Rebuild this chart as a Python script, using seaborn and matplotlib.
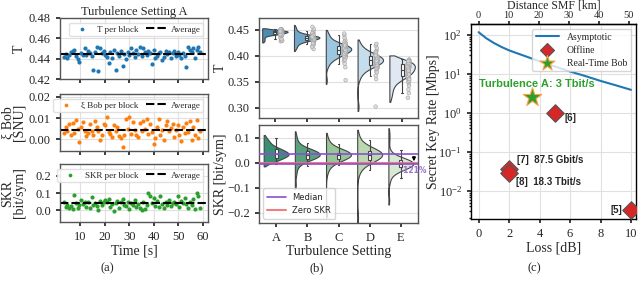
import numpy as np
import pandas as pd
import seaborn as sns
import matplotlib.pyplot as plt

# ---------------- (a) Turbulence setting A, per block ----------------
time_s = [3.5, 4.2, 4.9, 5.6, 6.3, 7.0, 7.7, 8.4, 9.1, 9.8,
          10.5, 11.2, 11.9, 12.6, 13.3, 14.0, 14.7, 15.4, 16.1, 16.8,
          17.5, 18.2, 18.9, 19.6, 20.3, 21.0, 21.7, 22.4, 23.1, 23.8,
          24.5, 25.2, 25.9, 26.6, 27.3, 28.0, 28.7, 29.4, 30.1, 30.8,
          31.5, 32.2, 32.9, 33.6, 34.3, 35.0, 35.7, 36.4, 37.1, 37.8,
          38.5, 39.2, 39.9, 40.6, 41.3, 42.0, 42.7, 43.4, 44.1, 44.8,
          45.5, 46.2, 46.9, 47.6, 48.3, 49.0, 49.7, 50.4, 51.1, 51.8,
          52.5, 53.2, 53.9, 54.6, 55.3, 56.0, 56.7, 57.4, 58.1, 58.8]

t_block = [0.442, 0.445, 0.441, 0.444, 0.447, 0.448, 0.449, 0.443, 0.440, 0.437,
           0.446, 0.444, 0.450, 0.444, 0.448, 0.446, 0.443, 0.429, 0.447, 0.451,
           0.428, 0.450, 0.446, 0.448, 0.444, 0.442, 0.436, 0.447, 0.441, 0.449,
           0.429, 0.446, 0.443, 0.448, 0.433, 0.445, 0.440, 0.447, 0.444, 0.450,
           0.446, 0.442, 0.449, 0.445, 0.451, 0.443, 0.450, 0.447, 0.444, 0.448,
           0.446, 0.435, 0.449, 0.441, 0.443, 0.446, 0.447, 0.439, 0.442, 0.448,
           0.445, 0.447, 0.441, 0.446, 0.448, 0.443, 0.447, 0.444, 0.441, 0.446,
           0.443, 0.432, 0.451, 0.449, 0.447, 0.450, 0.441, 0.449, 0.451, 0.447]

xi_block = [0.003, 0.006, 0.004, 0.007, 0.002, 0.0075, 0.003, 0.009, 0.005, -0.0015,
            0.006, 0.008, 0.004, 0.0015, 0.003, 0.007, 0.004, 0.002, 0.0085, 0.006,
            0.004, -0.0005, 0.002, 0.007, 0.0065, 0.0105, 0.0035, 0.0025, 0.001, 0.0065,
            0.004, 0.006, 0.0015, 0.0005, -0.0035, 0.002, 0.0095, 0.005, 0.0105, 0.0025,
            0.008, 0.0045, 0.002, 0.001, 0.0075, 0.004, 0.0085, 0.005, 0.0095, 0.0025,
            0.007, 0.0035, -0.002, 0.0005, 0.006, 0.0095, 0.002, 0.0045, -0.0005, 0.0065,
            0.0085, 0.004, 0.0055, 0.007, 0.001, 0.0045, 0.0065, 0.002, -0.001, 0.006,
            0.003, 0.0075, 0.0035, 0.0085, -0.0005, 0.006, 0.002, 0.009, 0.0005, 0.004]

skr_block = [0.045, 0.02, 0.03, 0.01, 0.025, 0.005, 0.09, 0.04, 0.015, 0.03,
             0.06, 0.035, 0.05, 0.02, 0.045, 0.01, 0.075, 0.03, 0.04, 0.025,
             0.0, 0.055, 0.03, 0.05, 0.06, 0.045, 0.065, 0.02, 0.035, -0.005,
             0.04, 0.055, 0.01, 0.045, 0.065, 0.03, 0.025, 0.05, 0.005, 0.04,
             0.03, 0.06, 0.02, 0.035, 0.015, 0.0, 0.045, 0.005, 0.03, 0.1,
             0.085, 0.04, 0.07, 0.025, 0.055, 0.02, 0.08, 0.035, 0.015, 0.045,
             0.03, 0.06, 0.025, 0.04, 0.05, 0.035, 0.08, 0.02, 0.055, 0.04,
             0.07, 0.035, 0.015, 0.05, 0.03, 0.065, 0.005, 0.1, 0.085, 0.01]

# ---------------- (b) settings B-E (A = the blocks above) ----------------
settings = ['A', 'B', 'C', 'D', 'E']

t_B = [0.436, 0.432, 0.441, 0.428, 0.438, 0.434, 0.445, 0.430, 0.437, 0.422,
       0.433, 0.440, 0.435, 0.426, 0.439, 0.431, 0.448, 0.436, 0.429, 0.434,
       0.443, 0.413, 0.437, 0.432, 0.438, 0.427, 0.435, 0.441, 0.430, 0.452,
       0.434, 0.437, 0.419, 0.433, 0.439, 0.436, 0.431, 0.444, 0.428, 0.435,
       0.456, 0.433, 0.438, 0.424, 0.436, 0.440, 0.432, 0.435, 0.417, 0.437]
t_C = [0.412, 0.405, 0.420, 0.398, 0.415, 0.408, 0.425, 0.401, 0.417, 0.390,
       0.410, 0.422, 0.413, 0.395, 0.419, 0.403, 0.430, 0.411, 0.399, 0.414,
       0.427, 0.385, 0.416, 0.406, 0.421, 0.396, 0.413, 0.435, 0.402, 0.418,
       0.409, 0.424, 0.378, 0.412, 0.440, 0.407, 0.415, 0.400, 0.419, 0.353,
       0.410, 0.423, 0.404, 0.417, 0.392, 0.414, 0.408, 0.420, 0.411, 0.443]
t_D = [0.391, 0.384, 0.400, 0.377, 0.395, 0.387, 0.405, 0.381, 0.398, 0.370,
       0.390, 0.402, 0.393, 0.374, 0.399, 0.383, 0.410, 0.389, 0.379, 0.394,
       0.408, 0.362, 0.396, 0.386, 0.403, 0.376, 0.392, 0.415, 0.382, 0.397,
       0.388, 0.404, 0.355, 0.391, 0.420, 0.385, 0.395, 0.380, 0.400, 0.302,
       0.389, 0.406, 0.383, 0.397, 0.368, 0.393, 0.387, 0.401, 0.390, 0.423]
t_E = [0.372, 0.365, 0.385, 0.358, 0.378, 0.368, 0.390, 0.356, 0.381, 0.345,
       0.374, 0.388, 0.376, 0.350, 0.383, 0.362, 0.392, 0.370, 0.357, 0.379,
       0.386, 0.335, 0.377, 0.366, 0.389, 0.352, 0.373, 0.393, 0.360, 0.382,
       0.369, 0.387, 0.328, 0.371, 0.391, 0.363, 0.380, 0.355, 0.384, 0.319,
       0.367, 0.389, 0.361, 0.379, 0.342, 0.375, 0.364, 0.386, 0.371, 0.390]

skr_B = [0.03, 0.02, 0.045, 0.01, 0.035, 0.025, 0.055, 0.015, 0.04, 0.0,
         0.03, 0.05, 0.035, -0.005, 0.045, 0.02, 0.07, 0.03, 0.01, 0.035,
         0.06, -0.03, 0.04, 0.025, 0.05, 0.005, 0.03, 0.08, 0.015, 0.045,
         0.025, 0.055, -0.05, 0.03, 0.11, 0.02, 0.04, 0.01, 0.05, -0.09,
         0.03, 0.06, 0.015, 0.045, -0.015, 0.035, 0.025, 0.05, 0.03, 0.09]
skr_C = [0.03, 0.02, 0.04, 0.01, 0.035, 0.025, 0.05, 0.015, 0.04, 0.0,
         0.03, 0.045, 0.035, -0.005, 0.04, 0.02, 0.065, 0.03, 0.01, 0.035,
         0.055, -0.025, 0.04, 0.025, 0.045, 0.005, 0.03, 0.075, 0.015, 0.04,
         0.025, 0.05, -0.04, 0.03, 0.1, 0.02, 0.035, 0.01, 0.045, -0.2,
         0.03, 0.055, 0.015, 0.04, -0.01, 0.035, 0.025, 0.045, 0.03, 0.085]
skr_D = [0.03, 0.015, 0.045, 0.005, 0.035, 0.02, 0.055, 0.01, 0.04, -0.005,
         0.03, 0.05, 0.035, -0.01, 0.045, 0.02, 0.07, 0.03, 0.005, 0.035,
         0.06, -0.03, 0.04, 0.02, 0.05, 0.0, 0.03, 0.08, 0.01, 0.045,
         0.025, 0.055, -0.05, 0.03, 0.11, 0.015, 0.04, 0.005, 0.05, -0.22,
         0.03, 0.06, 0.01, 0.045, -0.02, 0.035, 0.02, 0.05, 0.025, 0.09]
skr_E = [-0.007, -0.015, 0.005, -0.025, 0.0, -0.01, 0.015, -0.02, 0.008, -0.035,
         -0.005, 0.01, -0.003, -0.04, 0.006, -0.018, 0.03, -0.008, -0.028, -0.002,
         0.02, -0.06, 0.004, -0.012, 0.012, -0.03, -0.006, 0.05, -0.022, 0.009,
         -0.01, 0.014, -0.08, -0.007, 0.09, -0.016, 0.002, -0.024, 0.011, -0.15,
         -0.009, 0.018, -0.02, 0.007, -0.045, -0.004, -0.013, 0.013, -0.006, 0.12]
drop_label = '-121%'

blues = ['#3d8fc4', '#62abd8', '#8fcbec', '#bfdff2', '#dde9f6']
greens = ['#2a9f7a', '#4bb07a', '#8fcf8e', '#b7e0aa', '#d5ecd0']

# ---------------- (c) key rate vs loss ----------------
asym_loss = [0, 0.25, 0.5, 1, 1.5, 2, 3, 4, 5, 6, 7, 8, 9, 10]
asym_rate = [117, 98, 82, 62, 49, 40, 29, 21, 15.5, 11.5, 8.8, 6.6, 5.1, 3.9]
off_loss = [5, 2, 2, 10]
off_rate = [1.0, 0.037, 0.028, 0.0033]
off_refs = ['[6]', '[7]  87.5 Gbit/s', '[8]  18.3 Tbit/s', '[5]']
rt_loss = [3.5]
rt_rate = [2.6]
db_per_km = 0.197

# ---------------- style ----------------
sns.set_theme(style='whitegrid')
plt.rcParams['font.family'] = ['Liberation Serif', 'DejaVu Serif']
plt.rcParams['mathtext.fontset'] = 'stix'
plt.rcParams['axes.edgecolor'] = '#555555'
plt.rcParams['axes.linewidth'] = 1.0
plt.rcParams['grid.color'] = '#e0e0e0'
plt.rcParams['grid.linewidth'] = 0.8
plt.rcParams['xtick.bottom'] = True
plt.rcParams['ytick.left'] = True
plt.rcParams['xtick.major.size'] = 3
plt.rcParams['ytick.major.size'] = 3
plt.rcParams['xtick.labelsize'] = 9
plt.rcParams['ytick.labelsize'] = 9
plt.rcParams['axes.labelsize'] = 10
np.random.seed(3)

fig = plt.figure(figsize=(6.4, 2.93), dpi=100)
W, H = 640, 293


def px_axes(x0, y0, x1, y1):
    return fig.add_axes([x0 / W, 1 - y1 / H, (x1 - x0) / W, (y1 - y0) / H])


# ---------------- panel (a) ----------------
axa1 = px_axes(60, 18, 208, 79)
axa2 = px_axes(60, 94, 208, 151)
axa3 = px_axes(60, 164, 208, 222)

rows = [(axa1, t_block, 'tab:blue', 'T per block', 'T', (0.42, 0.48), [0.42, 0.44, 0.46, 0.48], '{:.2f}'),
        (axa2, xi_block, 'tab:orange', 'ξ Bob per block', 'ξ Bob\n[SNU]', (-0.0055, 0.0213), [0.0, 0.01, 0.02], '{:.2f}'),
        (axa3, skr_block, 'tab:green', 'SKR per block', 'SKR\n[bit/sym]', (-0.07, 0.27), [0.0, 0.1, 0.2], '{:.1f}')]
for ax, vals, col, lab, ylab, ylim, yt, fmt in rows:
    sns.scatterplot(x=time_s, y=vals, color=col, s=9, linewidth=0, label=lab, ax=ax)
    ax.axhline(np.mean(vals), color='black', ls=(0, (4, 1.5)), lw=1.5, label='Average')
    ax.set_xlim(1.9, 62)
    ax.set_ylim(*ylim)
    ax.set_yticks(yt)
    ax.set_yticklabels([fmt.format(v) for v in yt])
    ax.set_xticks([10, 20, 30, 40, 50, 60])
    ax.set_ylabel(ylab, fontsize=10, linespacing=0.85)
    ax.legend(loc='upper right', ncol=2, fontsize=6.5, handlelength=2.3,
              columnspacing=0.8, borderpad=0.3, handletextpad=0.5, markerscale=0.9,
              framealpha=0.9, edgecolor='#dddddd')
    ax.yaxis.set_label_coords(-0.23, 0.5)
    if ax is not axa3:
        ax.set_xticklabels([])
axa1.set_title('Turbulence Setting A', fontsize=9, pad=2)
axa3.set_xlabel('Time [s]', labelpad=1)

# ---------------- panel (b) ----------------
dfT = pd.DataFrame({'setting': np.repeat(settings, [len(t_block), len(t_B), len(t_C), len(t_D), len(t_E)]),
                    'T': t_block + t_B + t_C + t_D + t_E})
dfS = pd.DataFrame({'setting': np.repeat(settings, [len(skr_block), len(skr_B), len(skr_C), len(skr_D), len(skr_E)]),
                    'SKR': skr_block + skr_B + skr_C + skr_D + skr_E})
dfT['side'] = 'l'
dfS['side'] = 'l'

axb1 = px_axes(259, 18, 418, 118)
axb2 = px_axes(259, 125, 418, 223)

for ax, df, col, pal in ((axb1, dfT, 'T', blues), (axb2, dfS, 'SKR', greens)):
    for i, s in enumerate(settings):
        sns.violinplot(data=df[df.setting == s], x='setting', y=col, order=settings,
                       hue='side', hue_order=['r', 'l'], split=True, dodge=False,
                       inner=None, cut=1, width=0.8, density_norm='width',
                       palette=[pal[i], pal[i]], linewidth=0.8,
                       linecolor='#444444', legend=False, ax=ax)
    sns.boxplot(data=df, x='setting', y=col, order=settings, width=0.1, showfliers=False,
                color='white', linecolor='#444444', linewidth=0.8, ax=ax)
    ax.set_xlim(-0.55, 4.55)

sns.stripplot(data=dfT, x='setting', y='T', order=settings, hue='side', hue_order=['r', 'l'],
              dodge=True, jitter=0.07, size=2.6, palette=['white', '#d9d9d9'],
              edgecolor='#a0a0a0', linewidth=0.5, alpha=0.8, legend=False, ax=axb1)

axb1.set_ylim(0.280, 0.473)
axb1.set_yticks([0.30, 0.35, 0.40, 0.45])
axb1.set_xticklabels([])
axb1.set_xlabel('')
axb1.set_ylabel('T')

med_a = np.median(skr_block)
med_e = np.median(skr_E)
axb2.axhline(med_a, color='#8a4fd1', lw=1.2, label='Median', zorder=5)
axb2.axhline(med_e, color='#8a4fd1', lw=1.2, zorder=5)
axb2.axhline(0, color='#f07070', lw=1.5, alpha=0.9, label='Zero SKR', zorder=4)
axb2.annotate('', xy=(4.42, med_e), xytext=(4.42, med_a),
              arrowprops=dict(arrowstyle='-|>', color='black', lw=1, mutation_scale=5), zorder=6)
axb2.text(4.42, med_e - 0.007, drop_label,
          ha='center', va='top', fontsize=5.5, color='#9b72cf', fontweight='bold',
          family='DejaVu Sans', zorder=6)
axb2.set_ylim(-0.241, 0.150)
axb2.set_yticks([-0.2, -0.1, 0.0, 0.1])
axb2.set_xlabel('Turbulence Setting', labelpad=1)
axb2.set_ylabel('SKR [bit/sym]')
axb2.legend(loc='lower left', prop={'family': 'DejaVu Sans', 'size': 6},
            handlelength=2.2, borderpad=0.5, edgecolor='#cccccc')
for ax in (axb1, axb2):
    ax.yaxis.set_label_coords(-0.2, 0.5)

# ---------------- panel (c) ----------------
axc = px_axes(471, 24, 636, 219)
sns.lineplot(x=asym_loss, y=asym_rate, color='#1f77b4', lw=1.5, label='Asymptotic', ax=axc)
sns.scatterplot(x=off_loss, y=off_rate, marker='D', s=80, color='#d62728',
                edgecolor='#555555', linewidth=0.8, label='Offline', ax=axc, zorder=5)
sns.scatterplot(x=rt_loss, y=rt_rate, marker='*', s=200, color='#2ca02c',
                edgecolor='#ff9f40', linewidth=0.8, label='Real-Time Bob', ax=axc, zorder=5)
axc.set_yscale('log')
axc.set_ylim(0.0019, 190)
axc.set_xlim(-0.5, 10.33)
axc.set_xticks([0, 2, 4, 6, 8, 10])
axc.set_yticks([1e-2, 1e-1, 1e0, 1e1, 1e2])
axc.tick_params(axis='y', which='minor', left=True, length=1.5)
for sp in axc.spines.values():
    sp.set_color('black')
axc.set_xlabel('Loss [dB]', labelpad=1)
axc.set_ylabel('Secret Key Rate [Mbps]')
axc.yaxis.set_label_coords(-0.185, 0.5)

offsets = [((7, -4), 'left'), ((6, 6), 'left'), ((5, -6), 'left'), ((-6, 0), 'right')]
for x, y, txt, (off, ha) in zip(off_loss, off_rate, off_refs, offsets):
    axc.annotate(txt, (x, y), xytext=off, textcoords='offset points', ha=ha, va='center',
                 fontsize=7, fontweight='bold', family='Liberation Sans')
axc.text(0.0, 5.6, 'Turbulence A: 3 Tbit/s', color='#2ca02c', fontsize=8,
         fontweight='bold', family='Liberation Sans', va='center')
axc.legend(loc='upper right', fontsize=7, markerscale=0.8, handlelength=2.4,
           borderpad=0.4, labelspacing=0.4, edgecolor='#cccccc')

top = axc.secondary_xaxis('top', functions=(lambda l: l / db_per_km, lambda d: d * db_per_km))
top.set_xticks([0, 10, 20, 30, 40, 50])
top.tick_params(labelsize=7.5, length=2, pad=1)
top.set_xlabel('Distance SMF [km]', fontsize=8.5, labelpad=2)

# captions
fig.text(107 / W, 1 - 268 / H, '(a)', ha='center', va='center', fontsize=9)
fig.text(317 / W, 1 - 268 / H, '(b)', ha='center', va='center', fontsize=9)
fig.text(534 / W, 1 - 268 / H, '(c)', ha='center', va='center', fontsize=9)

fig.savefig('out.png', dpi=100)
